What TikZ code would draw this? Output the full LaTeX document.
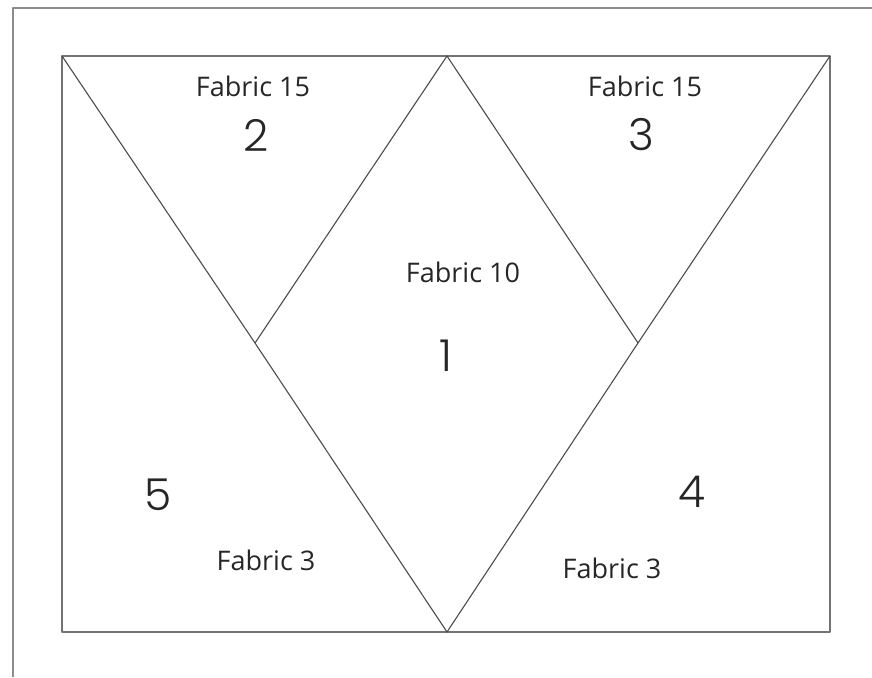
\documentclass[tikz,border=0pt]{standalone}
\usepackage{fontspec}
\setmainfont{Open Sans}
\newfontfamily\digitfont{Poppins Light}
\begin{document}
\begin{tikzpicture}[
        x=1pt, y=-1pt,
        line join=round,
        frameline/.style={draw=black!45, line width=1.8pt},
        seamline/.style={draw=black!70, line width=1.1pt},
        fabriclabel/.style={font=\fontsize{27}{30}\selectfont, text=black!85, inner sep=0pt},
        piecenum/.style={font=\digitfont\fontsize{44}{48}\selectfont, text=black!85, inner sep=0pt}
    ]
    \useasboundingbox (0,0) rectangle (872,677);
    \path (62,56) coordinate (tl)
        (447,56) coordinate (tm)
        (830,56) coordinate (tr)
        (62,632) coordinate (bl)
        (447,632) coordinate (bm)
        (830,632) coordinate (br)
        (255,343) coordinate (kl)
        (638,343) coordinate (kr)
    ;
    % outer page frame, runs off the picture
    \draw[frameline] (13,677) -- (13,8) -- (872,8);
    % the block
    \draw[frameline, draw=black!55, line width=1.4pt] (tl) rectangle (br);
    \draw[seamline] (tl) -- (kl) -- (bm) -- (kr) -- (tr);
    \draw[seamline] (kl) -- (tm) -- (kr);

    \node[fabriclabel] (f2) at (253,86) {Fabric 15};
    \node[piecenum] (n2) at (256,135) {2};
    \node[fabriclabel] (f3) at (645,86) {Fabric 15};
    \node[piecenum] (n3) at (641,135) {3};
    \node[fabriclabel] (f1) at (463,272) {Fabric 10};
    \node[piecenum] (n1) at (446,356) {1};
    \node[piecenum] (n5) at (158,495) {5};
    \node[fabriclabel] (f5) at (266,560) {Fabric 3};
    \node[piecenum] (n4) at (692,492) {4};
    \node[fabriclabel] (f4) at (612,568) {Fabric 3};
\end{tikzpicture}
\end{document}
